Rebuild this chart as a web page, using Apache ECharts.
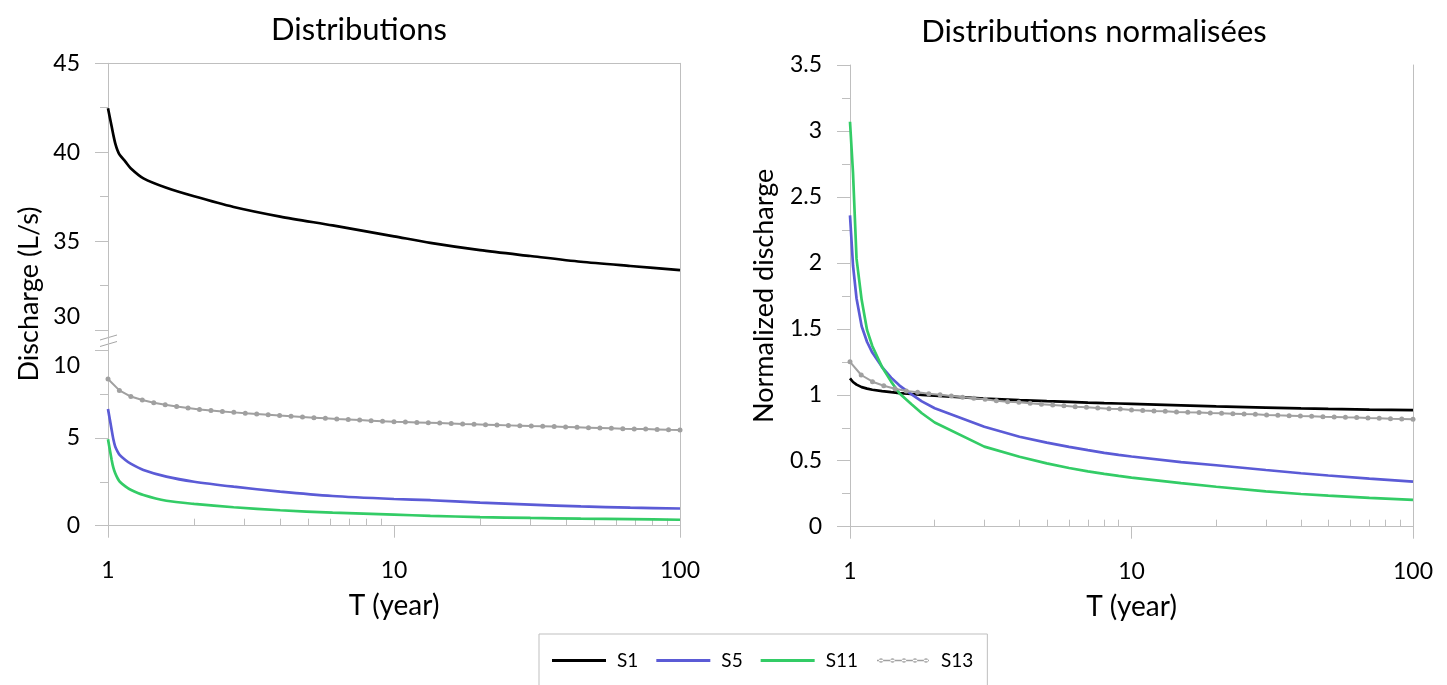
<!DOCTYPE html>
<html><head><meta charset="utf-8">
<script src="https://cdn.jsdelivr.net/npm/echarts@6/dist/echarts.min.js"></script>
<style>html,body{margin:0;padding:0;background:#fff}#c{width:1447px;height:685px}</style>
</head><body><div id="c"></div>
<script>
// ---- data ----
const SERIES_NAMES = ['S1', 'S5', 'S11', 'S13'];
const X_MAJOR = [1, 10, 100];
const X_MINOR = [2, 3, 4, 5, 6, 7, 8, 9, 20, 30, 40, 50, 60, 70, 80, 90];
const Y_TOP_TICKS = [30, 35, 40, 45];
const Y_TOP_MINOR = [32.5, 37.5, 42.5];

// left chart, solid curves
const T_LEFT = [1, 1.03, 1.044, 1.06, 1.08, 1.1, 1.15, 1.2, 1.33, 1.6, 2, 2.75, 4, 6.1, 10, 13.4, 20, 30, 45, 67, 100];
const S1_LEFT = [42.47, 41.44, 40.97, 40.5, 40.1, 39.84, 39.47, 39.1, 38.53, 38.0, 37.52, 36.92, 36.38, 35.88, 35.27, 34.9, 34.49, 34.16, 33.84, 33.6, 33.37];
const S5_LEFT = [6.64, 5.45, 4.92, 4.5, 4.22, 4.02, 3.74, 3.53, 3.17, 2.79, 2.5, 2.22, 1.94, 1.69, 1.52, 1.45, 1.31, 1.2, 1.1, 1.03, 0.98];
const S11_LEFT = [4.92, 3.74, 3.3, 2.98, 2.7, 2.5, 2.24, 2.05, 1.75, 1.42, 1.24, 1.05, 0.88, 0.74, 0.63, 0.56, 0.49, 0.44, 0.4, 0.37, 0.34];

// marker series S13 (both charts)
const T_S13 = [1, 1.096, 1.202, 1.318, 1.445, 1.585, 1.738, 1.905, 2.089, 2.291, 2.512, 2.754, 3.02, 3.311, 3.631, 3.981, 4.365, 4.786, 5.248, 5.754, 6.31, 6.918, 7.586, 8.318, 9.12, 10, 10.96, 12.02, 13.18, 14.45, 15.85, 17.38, 19.05, 20.89, 22.91, 25.12, 27.54, 30.2, 33.11, 36.31, 39.81, 43.65, 47.86, 52.48, 57.54, 63.1, 69.18, 75.86, 83.18, 91.2, 100];
const S13_LEFT = [8.35, 7.7, 7.35, 7.15, 7.0, 6.89, 6.79, 6.7, 6.62, 6.56, 6.5, 6.45, 6.4, 6.36, 6.32, 6.27, 6.23, 6.19, 6.15, 6.11, 6.07, 6.04, 6.01, 5.98, 5.95, 5.92, 5.9, 5.88, 5.86, 5.84, 5.82, 5.79, 5.77, 5.75, 5.73, 5.71, 5.69, 5.67, 5.66, 5.64, 5.62, 5.6, 5.58, 5.56, 5.54, 5.52, 5.51, 5.5, 5.48, 5.46, 5.45];
const S13_RIGHT = [1.25, 1.15, 1.099, 1.069, 1.046, 1.029, 1.019, 1.008, 1.001, 0.991, 0.981, 0.973, 0.966, 0.955, 0.948, 0.943, 0.935, 0.928, 0.923, 0.917, 0.91, 0.905, 0.9, 0.895, 0.892, 0.885, 0.88, 0.877, 0.875, 0.87, 0.867, 0.865, 0.862, 0.86, 0.857, 0.854, 0.852, 0.847, 0.844, 0.842, 0.839, 0.837, 0.834, 0.832, 0.829, 0.827, 0.824, 0.822, 0.819, 0.817, 0.814];

// right chart, solid curves
const T_RIGHT = [1, 1.025, 1.055, 1.1, 1.15, 1.2, 1.3, 1.4, 1.5, 1.65, 1.8, 2, 3, 4, 5, 6, 7, 8, 9, 10, 15, 20, 30, 40, 50, 70, 100];
const S1_RIGHT = [1.125, 1.097, 1.077, 1.058, 1.047, 1.038, 1.028, 1.02, 1.013, 1.006, 1.0, 0.993, 0.971, 0.96, 0.952, 0.946, 0.941, 0.937, 0.934, 0.931, 0.92, 0.912, 0.903, 0.897, 0.893, 0.888, 0.884];
const S5_RIGHT = [2.36, 1.98, 1.73, 1.52, 1.4, 1.32, 1.21, 1.13, 1.07, 1.005, 0.95, 0.898, 0.758, 0.682, 0.637, 0.605, 0.58, 0.56, 0.545, 0.532, 0.49, 0.466, 0.43, 0.405, 0.388, 0.365, 0.342];
const S11_RIGHT = [3.07, 2.68, 2.03, 1.72, 1.49, 1.37, 1.21, 1.1, 1.01, 0.93, 0.86, 0.79, 0.607, 0.53, 0.48, 0.445, 0.42, 0.4, 0.385, 0.372, 0.33, 0.303, 0.268, 0.248, 0.235, 0.218, 0.203];

// ---- styling ----
const FONT = 'Lato';
const AX = '#bfbfbf';
const TXT = '#000000';
const TICK_FS = 23, NAME_FS = 27, XNAME_FS = 28, TITLE_FS = 31;
const COLORS = {S1: '#000000', S5: '#5b5bd6', S11: '#33cc66', S13: '#a0a0a0'};
const zip = (xs, ys) => xs.map((x, i) => [x, ys[i]]);

const lineOnly = {show: true, lineStyle: {color: AX, width: 1}};
function frameX(grid) {
  return {type: 'log', logBase: 10, gridIndex: grid, min: 1, max: 100, position: 'top',
    axisLine: lineOnly, axisTick: {show: false}, axisLabel: {show: false}, splitLine: {show: false}};
}
function mainX(grid) {
  return {type: 'log', logBase: 10, gridIndex: grid, min: 1, max: 100, position: 'bottom',
    axisLine: lineOnly, axisTick: {show: true, length: 12, lineStyle: {color: AX}, customValues: X_MAJOR},
    axisLabel: {show: true, customValues: X_MAJOR, fontSize: TICK_FS, fontFamily: FONT, color: TXT, margin: 33},
    splitLine: {show: false}, minorTick: {show: false},
    name: 'T (year)', nameLocation: 'middle', nameGap: 66,
    nameTextStyle: {fontSize: XNAME_FS, fontFamily: FONT, color: TXT}};
}
function minorX(grid) {
  return {type: 'log', logBase: 10, gridIndex: grid, min: 1, max: 100, position: 'bottom',
    axisLine: {show: false}, axisLabel: {show: false}, splitLine: {show: false},
    axisTick: {show: true, inside: true, length: 7, lineStyle: {color: AX}, customValues: X_MINOR}};
}
function rightY(grid, min, max) {
  return {type: 'value', gridIndex: grid, min: min, max: max, position: 'right',
    axisLine: lineOnly, axisTick: {show: false}, axisLabel: {show: false}, splitLine: {show: false}};
}
const yLabel = {fontSize: TICK_FS, fontFamily: FONT, color: TXT, margin: 28};
const breakRich = {
  up: {fontSize: TICK_FS, fontFamily: FONT, color: TXT, padding: [0, 0, 26, 0]},
  dn: {fontSize: TICK_FS, fontFamily: FONT, color: TXT, padding: [32, 0, 0, 0]}
};
const TOP_MIN = 28.875;

const option = {
  animation: false,
  backgroundColor: '#ffffff',
  textStyle: {fontFamily: FONT},
  title: [
    {text: 'Distributions', left: 354, top: 9, textAlign: 'center',
      textStyle: {fontSize: TITLE_FS, fontWeight: 'normal', fontFamily: FONT, color: TXT}},
    {text: 'Distributions normalisées', left: 1089, top: 11, textAlign: 'center',
      textStyle: {fontSize: TITLE_FS, fontWeight: 'normal', fontFamily: FONT, color: TXT}}
  ],
  grid: [
    {left: 108, top: 63.3, width: 572, height: 286.7, outerBoundsMode: 'none'},
    {left: 108, top: 350, width: 572, height: 175.7, outerBoundsMode: 'none'},
    {left: 850, top: 65, width: 563, height: 461.7, outerBoundsMode: 'none'}
  ],
  xAxis: [frameX(0), mainX(1), minorX(1), frameX(2), mainX(2), minorX(2)],
  yAxis: [
    {type: 'value', gridIndex: 0, position: 'left', min: TOP_MIN, max: 45, axisLine: lineOnly, splitLine: {show: false},
      axisTick: {show: true, length: 13, lineStyle: {color: AX}, customValues: Y_TOP_TICKS},
      axisLabel: Object.assign({customValues: Y_TOP_TICKS, rich: breakRich,
        formatter: v => (v === 30 ? '{up|30}' : String(v))}, yLabel)},
    {type: 'value', gridIndex: 0, position: 'left', min: TOP_MIN, max: 45, axisLine: {show: false}, splitLine: {show: false},
      axisTick: {show: true, length: 8, lineStyle: {color: AX}, customValues: Y_TOP_MINOR},
      axisLabel: {show: false}},
    rightY(0, TOP_MIN, 45),
    {type: 'value', gridIndex: 1, position: 'left', min: 0, max: 10, interval: 5, axisLine: lineOnly, splitLine: {show: false},
      axisTick: {show: true, length: 13, lineStyle: {color: AX}},
      minorTick: {show: true, splitNumber: 2, length: 8, lineStyle: {color: AX}},
      axisLabel: Object.assign({rich: breakRich, formatter: v => (v === 10 ? '{dn|10}' : String(v))}, yLabel)},
    rightY(1, 0, 10),
    {type: 'value', gridIndex: 2, position: 'left', min: 0, max: 3.5, interval: 0.5, axisLine: lineOnly, splitLine: {show: false},
      axisTick: {show: true, length: 13, lineStyle: {color: AX}},
      minorTick: {show: true, splitNumber: 2, length: 8, lineStyle: {color: AX}},
      axisLabel: yLabel,
      name: 'Normalized discharge', nameLocation: 'middle', nameGap: 72,
      nameTextStyle: {fontSize: NAME_FS, fontFamily: FONT, color: TXT}},
    rightY(2, 0, 3.5)
  ],
  legend: {
    left: 539, top: 634, orient: 'horizontal',
    padding: [17, 14, 17, 13],
    borderColor: AX, borderWidth: 1,
    itemWidth: 54, itemHeight: 14, itemGap: 18,
    textStyle: {fontSize: 19, fontFamily: FONT, color: TXT, padding: [0, 0, 0, 6]},
    data: [
      {name: 'S1', icon: 'path://M0 0h0.01v0.01z M54 14h-0.01v-0.01z M0 5.6h54v2.8h-54z'},
      {name: 'S5', icon: 'path://M0 0h0.01v0.01z M54 14h-0.01v-0.01z M0 5.6h54v2.8h-54z'},
      {name: 'S11', icon: 'path://M0 0h0.01v0.01z M54 14h-0.01v-0.01z M0 5.6h54v2.8h-54z'},
      {name: 'S13', icon: 'path://M0 0h0.01v0.01z M54 14h-0.01v-0.01z M1 6.2h52v1.6h-52z M2.8 7a2.2 2.2 0 1 0 4.4 0a2.2 2.2 0 1 0 -4.4 0z M14.3 7a2.2 2.2 0 1 0 4.4 0a2.2 2.2 0 1 0 -4.4 0z M25.8 7a2.2 2.2 0 1 0 4.4 0a2.2 2.2 0 1 0 -4.4 0z M36.8 7a2.2 2.2 0 1 0 4.4 0a2.2 2.2 0 1 0 -4.4 0z M47.8 7a2.2 2.2 0 1 0 4.4 0a2.2 2.2 0 1 0 -4.4 0z'}
    ]
  },
  graphic: [
    {type: 'text', x: 29, y: 294, rotation: Math.PI / 2,
      style: {text: 'Discharge (L/s)', fontSize: NAME_FS, fontFamily: FONT, fill: TXT, align: 'center', verticalAlign: 'middle'}},
    {type: 'line', shape: {x1: 100, y1: 340, x2: 117, y2: 335}, style: {stroke: '#a6a6a6', lineWidth: 1}},
    {type: 'line', shape: {x1: 100, y1: 346.5, x2: 117, y2: 341.5}, style: {stroke: '#a6a6a6', lineWidth: 1}}
  ],
  series: [
    {name: 'S1', type: 'line', xAxisIndex: 0, yAxisIndex: 0, data: zip(T_LEFT, S1_LEFT), symbol: 'none', smooth: 0.25,
      lineStyle: {color: COLORS.S1, width: 2.7}, itemStyle: {color: COLORS.S1}},
    {name: 'S5', type: 'line', xAxisIndex: 1, yAxisIndex: 3, data: zip(T_LEFT, S5_LEFT), symbol: 'none', smooth: 0.25,
      lineStyle: {color: COLORS.S5, width: 2.7}, itemStyle: {color: COLORS.S5}},
    {name: 'S11', type: 'line', xAxisIndex: 1, yAxisIndex: 3, data: zip(T_LEFT, S11_LEFT), symbol: 'none', smooth: 0.25,
      lineStyle: {color: COLORS.S11, width: 2.7}, itemStyle: {color: COLORS.S11}},
    {name: 'S13', type: 'line', xAxisIndex: 1, yAxisIndex: 3, data: zip(T_S13, S13_LEFT), symbol: 'circle', symbolSize: 5,
      lineStyle: {color: COLORS.S13, width: 2}, itemStyle: {color: COLORS.S13}},
    {name: 'S1', type: 'line', xAxisIndex: 4, yAxisIndex: 5, data: zip(T_RIGHT, S1_RIGHT), symbol: 'none',
      lineStyle: {color: COLORS.S1, width: 2.7}, itemStyle: {color: COLORS.S1}},
    {name: 'S5', type: 'line', xAxisIndex: 4, yAxisIndex: 5, data: zip(T_RIGHT, S5_RIGHT), symbol: 'none',
      lineStyle: {color: COLORS.S5, width: 2.7}, itemStyle: {color: COLORS.S5}},
    {name: 'S11', type: 'line', xAxisIndex: 4, yAxisIndex: 5, data: zip(T_RIGHT, S11_RIGHT), symbol: 'none',
      lineStyle: {color: COLORS.S11, width: 2.7}, itemStyle: {color: COLORS.S11}},
    {name: 'S13', type: 'line', xAxisIndex: 4, yAxisIndex: 5, data: zip(T_S13, S13_RIGHT), symbol: 'circle', symbolSize: 5,
      lineStyle: {color: COLORS.S13, width: 2}, itemStyle: {color: COLORS.S13}}
  ]
};
const chart = echarts.init(document.getElementById('c'), null, {renderer: 'canvas'});
chart.setOption(option);
</script>
</body></html>
